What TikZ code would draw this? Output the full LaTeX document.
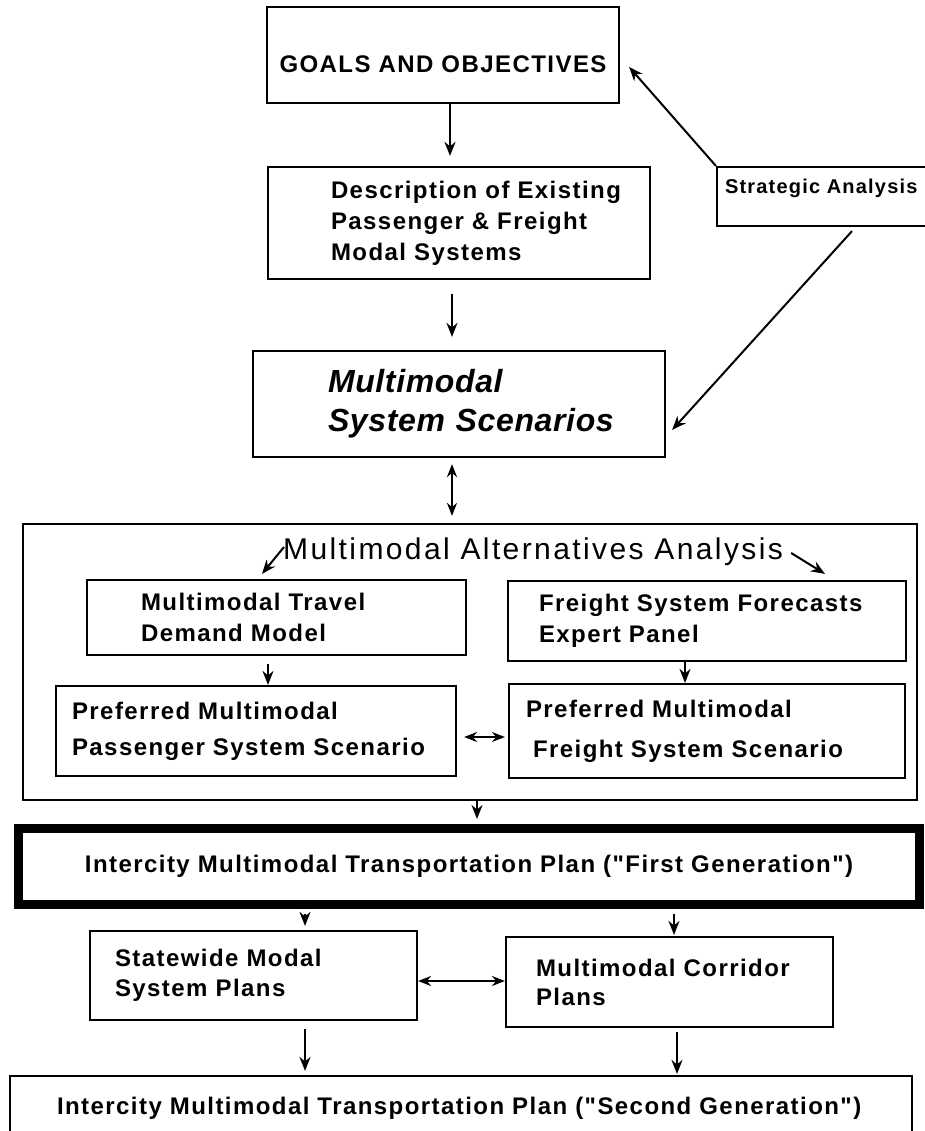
\documentclass[tikz,border=0pt]{standalone}
\usepackage{fontspec}
\setmainfont{Liberation Sans}
\newfontfamily\boxfont[LetterSpace=6]{Liberation Sans}
\newfontfamily\headfont[LetterSpace=8]{Liberation Sans}
\newfontfamily\scenfont[LetterSpace=2]{Liberation Sans}
\usetikzlibrary{positioning,arrows.meta}
\newcommand\ind[1]{\hspace*{#1pt}}
\tikzset{
  box/.style={draw,line width=2.2pt,inner sep=0pt,align=left,
    font=\boxfont\bfseries\fontsize{24}{31}\selectfont},
  arr/.style={-{Stealth[length=14pt,width=11pt]},line width=2pt},
  dbl/.style={{Stealth[length=13pt,width=10pt]}-{Stealth[length=13pt,width=10pt]},line width=2pt},
}

\begin{document}
\begin{tikzpicture}[x=1pt,y=-1pt]
\fill[white] (0,0) rectangle (925,1131);
\useasboundingbox (0,0) rectangle (925,1131);
\node[box,align=center,text width=352pt,minimum height=96pt,text height=35pt,text depth=0pt] (goals) at (443,55) {GOALS AND OBJECTIVES};
\node[box,text width=382pt,minimum height=112pt] (desc) at (459,223) {\ind{63}Description of Existing\\\ind{63}Passenger \& Freight\\\ind{63}Modal Systems};
\node[box,text width=412pt,minimum height=106pt,font=\scenfont\bfseries\itshape\fontsize{32}{39}\selectfont] (scen) at (459,404) {\ind{75}Multimodal\\\ind{75}System Scenarios};
\node[box,text width=218pt,minimum height=59pt,text depth=19.5pt,font=\boxfont\bfseries\fontsize{20}{24}\selectfont] (strat) at (826,196.5) {\ind{8}Strategic Analysis};
\node[draw,line width=2.2pt,inner sep=0pt,minimum width=894pt,minimum height=276pt] (maa) at (470,662) {};
\node[inner sep=0pt,anchor=base west,font=\headfont\fontsize{30}{36}\selectfont] (maatitle) at (283,559) {Multimodal Alternatives Analysis};
\node[box,text width=379pt,minimum height=75pt] (travel) at (276.5,617.5) {\ind{54}Multimodal Travel\\\ind{54}Demand Model};
\node[box,text width=398pt,minimum height=80pt] (freightfc) at (707,621) {\ind{31}Freight System Forecasts\\\ind{31}Expert Panel};
\node[box,text width=400pt,minimum height=90pt] (passpref) at (256,731) {\ind{16}Preferred Multimodal\\[5pt]\ind{16}Passenger System Scenario};
\node[box,text width=396pt,minimum height=94pt] (freightpref) at (707,731) {\ind{17}Preferred Multimodal\\[9pt]\ind{24}Freight System Scenario};
\node[box,align=center,line width=9pt,text width=901pt,minimum height=76pt] (first) at (469,866.5) {Intercity Multimodal Transportation Plan ("First Generation")};
\node[box,text width=327pt,minimum height=89pt] (statewide) at (253.5,975.5) {\ind{25}Statewide Modal\\[-1pt]\ind{25}System Plans};
\node[box,text width=327pt,minimum height=90pt] (corridor) at (669.5,982) {\ind{30}Multimodal Corridor\\[-2pt]\ind{30}Plans};
\node[box,text width=902pt,minimum height=80pt,text depth=19.5pt] (second) at (461,1116) {\ind{47}Intercity Multimodal Transportation Plan ("Second Generation")};
\draw[arr] ([xshift=7pt]goals.south) -- ([xshift=-9pt,yshift=10pt]desc.north);
\draw[arr] ([xshift=-7pt,yshift=-14pt]desc.south) -- ([xshift=-7pt,yshift=13pt]scen.north);
\draw[arr] (strat.north west) -- ([xshift=9pt,yshift=-12pt]goals.east);
\draw[arr] ([xshift=26pt,yshift=-4pt]strat.south) -- ([xshift=6pt,yshift=-26pt]scen.east);
\draw[dbl] ([xshift=-7pt,yshift=-6pt]scen.south) -- ([xshift=-18pt,yshift=7pt]maa.north);
\draw[arr] ([xshift=1pt,yshift=12pt]maatitle.base west) -- ([xshift=-14.5pt,yshift=5pt]travel.north);
\draw[arr] ([xshift=8pt,yshift=6pt]maatitle.base east) -- ([xshift=118pt,yshift=6pt]freightfc.north);
\draw[arr] ([xshift=-8.5pt,yshift=-8pt]travel.south) -- ([xshift=12pt]passpref.north);
\draw[arr] ([xshift=-22pt]freightfc.south) -- ([xshift=-22pt]freightpref.north);
\draw[dbl] ([xshift=7pt,yshift=-6pt]passpref.east) -- ([xshift=-3pt,yshift=-6pt]freightpref.west);
\draw[arr] ([xshift=7pt]maa.south) -- ([xshift=8pt,yshift=5pt]first.north);
\draw[arr] ([xshift=-164pt,yshift=-4.5pt]first.south) -- ([xshift=51.5pt,yshift=4pt]statewide.north);
\draw[arr] ([xshift=205pt,yshift=-4.5pt]first.south) -- ([xshift=4.5pt,yshift=1pt]corridor.north);
\draw[dbl] ([yshift=-5.5pt]statewide.east) -- ([yshift=1pt]corridor.west);
\draw[arr] ([xshift=51.5pt,yshift=-8pt]statewide.south) -- ([xshift=-156pt,yshift=4pt]second.north);
\draw[arr] ([xshift=7.5pt,yshift=-4pt]corridor.south) -- ([xshift=216pt,yshift=1pt]second.north);
\end{tikzpicture}
\end{document}
